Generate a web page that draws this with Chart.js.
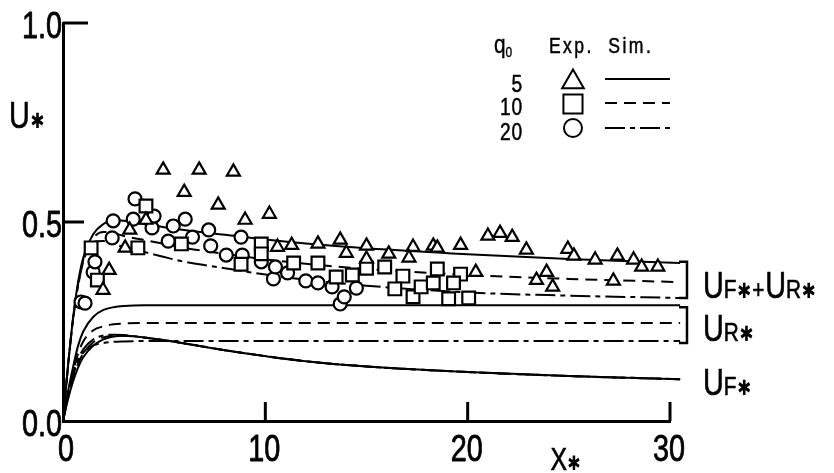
<!DOCTYPE html>
<html lang="en">
<head>
<meta charset="UTF-8">
<title>U* vs X*</title>
<script src="https://cdn.jsdelivr.net/npm/chart.js"></script>
<style>
  html, body { margin: 0; padding: 0; background: #fff; }
  #wrap { width: 834px; height: 473px; }
</style>
</head>
<body>
<div id="wrap"><canvas id="chart"></canvas></div>
<script>
// simulation grid along X*
const simX = [0, 0.25, 0.5, 0.75, 1, 1.5, 2, 2.5, 3, 4, 5, 6, 8, 10, 12, 15, 20, 25, 30.5];

// UF* + UR*
const sumQ5  = [0, 0.14, 0.26, 0.35, 0.41, 0.47, 0.495, 0.505, 0.503, 0.495, 0.487, 0.48, 0.468, 0.456, 0.446, 0.434, 0.419, 0.407, 0.397];
const sumQ10 = [0, 0.14, 0.26, 0.345, 0.405, 0.46, 0.475, 0.472, 0.465, 0.455, 0.445, 0.435, 0.42, 0.406, 0.395, 0.382, 0.367, 0.357, 0.349];
const sumQ20 = [0, 0.14, 0.255, 0.34, 0.4, 0.45, 0.452, 0.445, 0.437, 0.425, 0.412, 0.4, 0.384, 0.368, 0.355, 0.34, 0.323, 0.315, 0.309];

// UR*
const urQ5  = [0, 0.075, 0.136, 0.19, 0.225, 0.262, 0.279, 0.286, 0.289, 0.291, 0.291, 0.291, 0.291, 0.291, 0.291, 0.291, 0.291, 0.291, 0.291];
const urQ10 = [0, 0.07, 0.125, 0.17, 0.2, 0.228, 0.238, 0.243, 0.245, 0.246, 0.246, 0.246, 0.246, 0.246, 0.246, 0.246, 0.246, 0.246, 0.246];
const urQ20 = [0, 0.065, 0.115, 0.15, 0.172, 0.19, 0.196, 0.199, 0.2, 0.201, 0.201, 0.201, 0.201, 0.201, 0.201, 0.201, 0.201, 0.201, 0.201];

// UF*
const ufQ5  = [0, 0.055, 0.1, 0.135, 0.16, 0.19, 0.205, 0.212, 0.214, 0.21, 0.203, 0.195, 0.178, 0.163, 0.15, 0.137, 0.123, 0.113, 0.105];
const ufQ10 = [0, 0.06, 0.11, 0.145, 0.17, 0.198, 0.21, 0.214, 0.214, 0.21, 0.203, 0.195, 0.178, 0.163, 0.15, 0.137, 0.123, 0.113, 0.105];
const ufQ20 = [0, 0.065, 0.12, 0.155, 0.18, 0.205, 0.215, 0.217, 0.216, 0.21, 0.203, 0.195, 0.178, 0.163, 0.15, 0.137, 0.123, 0.113, 0.105];

// measured points
const expQ5X = [4.95, 6.73, 8.42, 5.99, 7.67, 9.0, 10.2, 3.3, 3.07, 2.28, 1.98, 4.1, 10.6, 11.3, 12.6, 13.7, 14.0, 15.0, 15.0, 16.1, 17.3, 17.1, 18.3, 18.5, 19.65, 20.4, 21.0, 21.6, 22.2, 22.9, 23.9, 23.4, 24.2, 24.95, 25.25, 26.3, 27.2, 27.4, 28.2, 28.6, 29.4];
const expQ5Y = [0.631, 0.631, 0.626, 0.575, 0.543, 0.505, 0.52, 0.48, 0.435, 0.379, 0.329, 0.505, 0.437, 0.442, 0.445, 0.455, 0.422, 0.44, 0.407, 0.42, 0.437, 0.41, 0.44, 0.435, 0.442, 0.374, 0.465, 0.472, 0.462, 0.43, 0.374, 0.354, 0.337, 0.432, 0.415, 0.405, 0.352, 0.415, 0.405, 0.387, 0.387];

const expQ10X = [4.1, 1.39, 3.7, 1.7, 5.85, 9.8, 9.8, 8.8, 11.4, 12.6, 13.5, 14.3, 15.0, 15.9, 16.8, 16.4, 17.3, 17.7, 18.3, 18.5, 19.65, 19.3, 19.06, 20.05];
const expQ10Y = [0.54, 0.435, 0.435, 0.354, 0.445, 0.445, 0.42, 0.394, 0.397, 0.397, 0.362, 0.367, 0.384, 0.387, 0.364, 0.332, 0.312, 0.337, 0.347, 0.382, 0.369, 0.347, 0.307, 0.309];

const expQ20X = [0.89, 1.09, 1.49, 1.58, 2.43, 2.48, 3.47, 3.56, 4.4, 4.5, 5.2, 5.45, 6.04, 6.4, 7.2, 7.3, 8.07, 8.8, 8.86, 9.8, 10.4, 10.5, 11.1, 12.0, 12.6, 13.3, 13.7, 13.9, 14.5];
const expQ20Y = [0.299, 0.296, 0.374, 0.40, 0.46, 0.503, 0.507, 0.558, 0.485, 0.515, 0.452, 0.49, 0.507, 0.462, 0.48, 0.44, 0.417, 0.462, 0.417, 0.40, 0.357, 0.387, 0.372, 0.352, 0.347, 0.337, 0.294, 0.312, 0.334];

const xTicks = [0, 10, 20, 30];
const xTickLabels = ['0', '10', '20', '30'];
const yTicks = [0, 0.5, 1.0];
const yTickLabels = ['0.0', '0.5', '1.0'];
const q0Labels = ['5', '10', '20'];

const FONT = '"Liberation Sans", Arial, sans-serif';
const STAR = '"DejaVu Sans", sans-serif';
const SQUEEZE = 0.8;          // narrow lettering
const DASH = [12, 7];
const DASH_DOT = [20, 5, 5, 5];

function curve(ys, dash) {
  return {
    data: simX.map((x, i) => ({ x: x, y: ys[i] })),
    showLine: true,
    pointRadius: 0,
    borderColor: '#000',
    borderWidth: 2,
    borderDash: dash,
    cubicInterpolationMode: 'monotone',
    clip: false,
    order: 1
  };
}

function marks(xs, ys, style, r) {
  return {
    data: xs.map((x, i) => ({ x: x, y: ys[i] })),
    showLine: false,
    pointStyle: style,
    pointRadius: r,
    pointBorderWidth: 2.2,
    pointBorderColor: '#000',
    pointBackgroundColor: '#fff',
    clip: false,
    order: 0
  };
}

// draws a run of text pieces (e.g. U, small F, asterisk) on one baseline, squeezed sideways
function drawParts(ctx, x, y, parts, align, weight) {
  ctx.save();
  ctx.textAlign = 'left';
  let total = 0;
  parts.forEach(p => {
    ctx.font = p.size + 'px ' + (p.star ? STAR : FONT);
    total += ctx.measureText(p.t).width + (p.gap || 0);
  });
  ctx.translate(x, y);
  ctx.scale(SQUEEZE, 1);
  ctx.lineWidth = weight || 0;
  ctx.lineJoin = 'round';
  let cx = align === 'center' ? -total / 2 : align === 'right' ? -total : 0;
  parts.forEach(p => {
    ctx.font = p.size + 'px ' + (p.star ? STAR : FONT);
    ctx.fillText(p.t, cx, p.dy || 0);
    if (weight && !p.star) ctx.strokeText(p.t, cx, p.dy || 0);
    cx += ctx.measureText(p.t).width + (p.gap || 0);
  });
  ctx.restore();
}

const extras = {
  id: 'extras',
  afterDraw(chart) {
    const ctx = chart.ctx;
    const xs = chart.scales.x, ys = chart.scales.y;
    const left = xs.left, bottom = ys.bottom;
    ctx.save();
    ctx.strokeStyle = '#000';
    ctx.fillStyle = '#000';
    ctx.setLineDash([]);
    ctx.textBaseline = 'alphabetic';

    // inward ticks
    ctx.lineWidth = 3;
    xTicks.slice(1).forEach(v => {
      const px = xs.getPixelForValue(v);
      ctx.beginPath(); ctx.moveTo(px, bottom); ctx.lineTo(px, bottom - 19); ctx.stroke();
    });
    yTicks.slice(1).forEach(v => {
      const py = ys.getPixelForValue(v);
      ctx.beginPath(); ctx.moveTo(left, py); ctx.lineTo(left + (v === 1 ? 25 : 21), py); ctx.stroke();
    });

    // tick labels
    xTicks.forEach((v, i) => {
      drawParts(ctx, xs.getPixelForValue(v) + (v === 0 ? 3 : -1), bottom + 40, [{ t: xTickLabels[i], size: 36 }], 'center', 0.8);
    });
    yTicks.forEach((v, i) => {
      drawParts(ctx, left - 1, ys.getPixelForValue(v) + 15, [{ t: yTickLabels[i], size: 36 }], 'right', 0.8);
    });

    // brackets round the curve groups at the right end
    const bx = xs.getPixelForValue(30) + 17;
    ctx.lineWidth = 2.5;
    [[0.40, 0.309], [0.286, 0.196]].forEach(b => {
      const t = ys.getPixelForValue(b[0]), u = ys.getPixelForValue(b[1]);
      ctx.beginPath();
      ctx.moveTo(bx - 8, t); ctx.lineTo(bx, t); ctx.lineTo(bx, u); ctx.lineTo(bx - 8, u);
      ctx.stroke();
    });

    const lx = bx + 16;
    drawParts(ctx, lx, ys.getPixelForValue(0.31), [
      { t: 'U', size: 36 }, { t: 'F', size: 26, gap: 1 }, { t: '✱', size: 21, star: true, gap: 1 },
      { t: '+', size: 26, gap: 1 },
      { t: 'U', size: 36 }, { t: 'R', size: 26, gap: 1 }, { t: '✱', size: 21, star: true }
    ], 'left', 0.6);
    drawParts(ctx, lx, ys.getPixelForValue(0.202), [
      { t: 'U', size: 36 }, { t: 'R', size: 26, gap: 1 }, { t: '✱', size: 21, star: true }
    ], 'left', 0.6);
    drawParts(ctx, lx, ys.getPixelForValue(0.065), [
      { t: 'U', size: 36 }, { t: 'F', size: 26, gap: 1 }, { t: '✱', size: 21, star: true }
    ], 'left', 0.6);

    // axis titles
    drawParts(ctx, left - 54, ys.getPixelForValue(0.735), [
      { t: 'U', size: 36, gap: 1 }, { t: '✱', size: 21, star: true }
    ], 'left', 0.6);
    drawParts(ctx, xs.getPixelForValue(24.1), bottom + 49, [
      { t: 'X', size: 31 }, { t: '✱', size: 20, star: true }
    ], 'left', 0.6);

    // key
    const kx = xs.getPixelForValue(21.3);
    drawParts(ctx, kx, 53, [{ t: 'q', size: 26 }, { t: '0', size: 15, dy: 4 }], 'left', 0.4);
    ctx.letterSpacing = '3px';
    drawParts(ctx, kx + 55, 53, [{ t: 'Exp.  Sim.', size: 22 }], 'left', 0.5);
    ctx.letterSpacing = '1px';
    const rows = [92, 115, 140];
    q0Labels.forEach((s, i) => drawParts(ctx, kx + 29, rows[i], [{ t: s, size: 24 }], 'right', 0.5));
    ctx.letterSpacing = '0px';

    const symX = kx + 79;
    const styles = [['triangle', 12.5, 82], ['rect', 13.5, 104], ['circle', 9, 128]];
    ctx.fillStyle = '#fff';
    ctx.lineWidth = 2;
    styles.forEach(s => {
      Chart.helpers.drawPoint(ctx, { pointStyle: s[0], radius: s[1], rotation: 0, borderWidth: 2 }, symX, s[2]);
    });
    const dashes = [[], DASH, DASH_DOT];
    const lineY = [79, 103, 128];
    dashes.forEach((d, i) => {
      ctx.setLineDash(d);
      ctx.beginPath(); ctx.moveTo(kx + 111, lineY[i]); ctx.lineTo(kx + 176, lineY[i]); ctx.stroke();
    });
    ctx.restore();
  }
};

new Chart(document.getElementById('chart'), {
  type: 'scatter',
  data: {
    datasets: [
      curve(sumQ5, []), curve(sumQ10, DASH), curve(sumQ20, DASH_DOT),
      curve(urQ5, []), curve(urQ10, DASH), curve(urQ20, DASH_DOT),
      curve(ufQ5, []), curve(ufQ10, DASH), curve(ufQ20, DASH_DOT),
      marks(expQ5X, expQ5Y, 'triangle', 7.5),
      marks(expQ10X, expQ10Y, 'rect', 9),
      marks(expQ20X, expQ20Y, 'circle', 6.5)
    ]
  },
  options: {
    responsive: true,
    maintainAspectRatio: false,
    animation: false,
    layout: { padding: { top: 23, right: 164, left: 0, bottom: 0 } },
    plugins: { legend: { display: false }, tooltip: { enabled: false } },
    scales: {
      x: {
        type: 'linear', min: 0, max: 30,
        afterFit: s => { s.height = 52; },
        afterBuildTicks: s => { s.ticks = xTicks.map(v => ({ value: v })); },
        grid: { display: false },
        border: { display: true, color: '#000', width: 3 },
        ticks: { display: false }
      },
      y: {
        type: 'linear', min: 0, max: 1,
        afterFit: s => { s.width = 63; },
        afterBuildTicks: s => { s.ticks = yTicks.map(v => ({ value: v })); },
        grid: { display: false },
        border: { display: true, color: '#000', width: 3 },
        ticks: { display: false }
      }
    }
  },
  plugins: [extras]
});
</script>
</body>
</html>
